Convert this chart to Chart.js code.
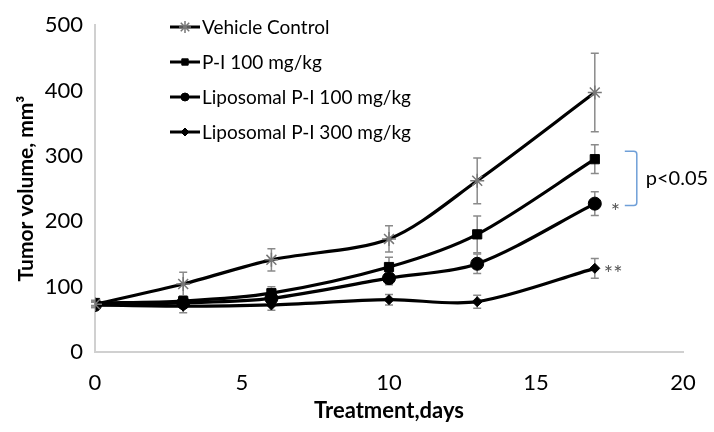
<!DOCTYPE html>
<html>
<head>
<meta charset="utf-8">
<style>
  html, body { margin: 0; padding: 0; background: #fff; }
  #wrap { width: 714px; height: 432px; }
</style>
<script src="https://cdn.jsdelivr.net/npm/chart.js@4/dist/chart.umd.min.js"></script>
</head>
<body>
<div id="wrap"><canvas id="tumorChart" width="714" height="432"></canvas></div>
<script>
const FONT = 'Lato, "Open Sans", sans-serif';

// Treatment days
const days = [0, 3, 6, 10, 13, 17];

// Mean tumor volume, mm3
const vehicle = [73, 104, 141, 173, 262, 397];
const pi100 = [75, 78, 90, 130, 180, 295];
const lipo100 = [72, 75, 82, 113, 135, 227];
const lipo300 = [72, 70, 72, 80, 77, 128];

// Error bars (+/-)
const vehicleErr = [4, 18, 17, 20, 35, 60];
const pi100Err = [4, 8, 10, 15, 28, 22];
const lipo100Err = [4, 6, 8, 10, 15, 18];
const lipo300Err = [4, 10, 8, 8, 10, 15];

const seriesNames = ['Vehicle Control', 'P-I 100 mg/kg', 'Liposomal P-I 100 mg/kg', 'Liposomal P-I 300 mg/kg'];
const xTicks = [0, 5, 10, 15, 20];
const yTicks = [0, 100, 200, 300, 400, 500];

function toPoints(vals) {
  return vals.map((v, i) => ({ x: days[i], y: v }));
}

const markerStyles = [
  { pointStyle: 'star', radius: 7, legendRadius: 6, color: '#777', border: 1.5 },
  { pointStyle: 'rect', radius: 6.5, legendRadius: 4.5, color: '#000', border: 1 },
  { pointStyle: 'circle', radius: 6.5, legendRadius: 4, color: '#000', border: 1 },
  { pointStyle: 'rectRot', radius: 5, legendRadius: 4, color: '#000', border: 1 }
];
const seriesValues = [vehicle, pi100, lipo100, lipo300];
const seriesErrors = [vehicleErr, pi100Err, lipo100Err, lipo300Err];

const datasets = seriesValues.map((vals, i) => ({
  label: seriesNames[i],
  data: toPoints(vals),
  errors: seriesErrors[i],
  borderColor: '#000',
  borderWidth: 3.2,
  tension: 0.3,
  pointStyle: markerStyles[i].pointStyle,
  pointRadius: markerStyles[i].radius,
  pointBackgroundColor: markerStyles[i].color,
  pointBorderColor: markerStyles[i].color,
  pointBorderWidth: markerStyles[i].border
}));

// Error bars drawn from the scales
const errorBars = {
  id: 'errorBars',
  beforeDatasetsDraw(chart) {
    const { ctx, scales: { x, y } } = chart;
    ctx.save();
    ctx.strokeStyle = '#8a8a8a';
    ctx.lineWidth = 1.5;
    chart.data.datasets.forEach(ds => {
      ds.data.forEach((p, i) => {
        const e = ds.errors[i];
        const px = x.getPixelForValue(p.x);
        const top = y.getPixelForValue(p.y + e);
        const bot = y.getPixelForValue(p.y - e);
        ctx.beginPath();
        ctx.moveTo(px, top); ctx.lineTo(px, bot);
        ctx.moveTo(px - 4, top); ctx.lineTo(px + 4, top);
        ctx.moveTo(px - 4, bot); ctx.lineTo(px + 4, bot);
        ctx.stroke();
      });
    });
    ctx.restore();
  }
};

// Legend inside the plot, Excel style (line through marker)
const insideLegend = {
  id: 'insideLegend',
  afterDraw(chart) {
    const { ctx } = chart;
    const x0 = 170, rowsY = [27, 62, 97, 132];
    ctx.save();
    chart.data.datasets.forEach((ds, i) => {
      const yy = rowsY[i];
      const m = markerStyles[i];
      ctx.strokeStyle = '#000';
      ctx.lineWidth = 3;
      ctx.beginPath();
      ctx.moveTo(x0, yy); ctx.lineTo(x0 + 30, yy);
      ctx.stroke();
      ctx.fillStyle = m.color;
      ctx.strokeStyle = m.color;
      ctx.lineWidth = m.border;
      Chart.helpers.drawPoint(ctx, {
        pointStyle: m.pointStyle,
        radius: m.legendRadius,
        borderWidth: m.border
      }, x0 + 15, yy);
      ctx.fillStyle = '#000';
      ctx.font = '19px ' + FONT;
      ctx.textBaseline = 'middle';
      ctx.textAlign = 'left';
      ctx.fillText(ds.label, x0 + 32, yy + 1);
    });
    ctx.restore();
  }
};

// Significance marks and bracket
const significance = {
  id: 'significance',
  afterDatasetsDraw(chart) {
    const { ctx, scales: { x, y } } = chart;
    const last = days.length - 1;
    const px = x.getPixelForValue(days[last]);
    ctx.save();
    ctx.fillStyle = '#555';
    ctx.font = '22px ' + FONT;
    ctx.textBaseline = 'middle';
    ctx.textAlign = 'left';
    ctx.fillText('*', px + 16, y.getPixelForValue(lipo100[last]) + 8);
    ctx.fillText('**', px + 9, y.getPixelForValue(lipo300[last]) + 6);

    const yTop = y.getPixelForValue(pi100[last] + 12);
    const yBot = y.getPixelForValue(lipo100[last] - 3);
    ctx.strokeStyle = '#6f9fd8';
    ctx.lineWidth = 1.5;
    ctx.beginPath();
    ctx.moveTo(px + 30, yTop);
    ctx.lineTo(px + 39, yTop);
    ctx.quadraticCurveTo(px + 42, yTop, px + 42, yTop + 3);
    ctx.lineTo(px + 42, yBot - 3);
    ctx.quadraticCurveTo(px + 42, yBot, px + 39, yBot);
    ctx.lineTo(px + 30, yBot);
    ctx.stroke();

    ctx.fillStyle = '#000';
    ctx.font = '20px ' + FONT;
    ctx.fillText('p<0.05', px + 51, (yTop + yBot) / 2);
    ctx.restore();
  }
};

new Chart(document.getElementById('tumorChart'), {
  type: 'line',
  data: { datasets: datasets },
  options: {
    responsive: false,
    animation: false,
    layout: { padding: { top: 20, right: 31, bottom: 0, left: 0 } },
    plugins: {
      legend: { display: false },
      tooltip: { enabled: false }
    },
    scales: {
      x: {
        type: 'linear',
        min: 0,
        max: 20,
        afterBuildTicks: s => { s.ticks = xTicks.map(v => ({ value: v })); },
        grid: { display: false, drawTicks: false },
        border: { color: '#d0d0d0', width: 2 },
        ticks: { color: '#000', font: { family: FONT, size: 22 }, padding: 18 },
        title: {
          display: true,
          text: 'Treatment,days',
          color: '#000',
          font: { family: FONT, size: 22, weight: 'bold' },
          padding: { top: 0, bottom: 8 }
        },
        afterFit: s => { s.height = 80; }
      },
      y: {
        min: 0,
        max: 500,
        afterBuildTicks: s => { s.ticks = yTicks.map(v => ({ value: v })); },
        grid: { display: false, drawTicks: false },
        border: { color: '#d0d0d0', width: 2 },
        ticks: { color: '#000', font: { family: FONT, size: 22 }, padding: 12 },
        title: {
          display: true,
          text: 'Tumor volume, mm³',
          color: '#000',
          font: { family: FONT, size: 21, weight: 'bold' },
          padding: { top: 14, bottom: 4 }
        },
        afterFit: s => { s.width = 95; }
      }
    }
  },
  plugins: [errorBars, insideLegend, significance]
});
</script>
</body>
</html>
